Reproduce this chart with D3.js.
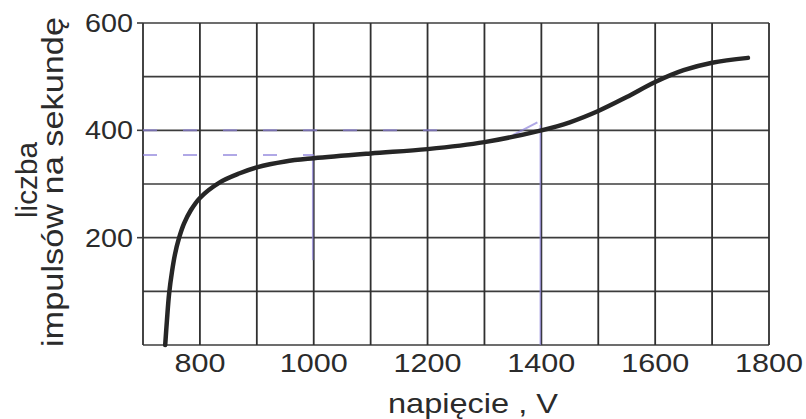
<!DOCTYPE html>
<html>
<head>
<meta charset="utf-8">
<script src="https://cdn.jsdelivr.net/npm/d3@7"></script>
<style>
  body { margin: 0; background: #fff; }
  text { font-family: "Liberation Sans", Arial, sans-serif; fill: #2b2b2b; }
</style>
</head>
<body>
<div id="chart"></div>
<script>
// plateau curve of the counter (napięcie -> liczba impulsów)
var voltage = [739, 742, 746, 751, 756, 763, 772, 784, 800, 835, 870, 900, 950, 1000, 1100, 1200, 1300, 1400, 1450, 1500, 1550, 1600, 1650, 1700, 1763];
var counts  = [0, 45, 97, 137, 168, 198, 226, 251, 274, 303, 320, 331, 342, 348, 357, 365, 378, 400, 415, 436, 462, 490, 512, 526, 535];

var xTicks = [800, 1000, 1200, 1400, 1600, 1800];
var yTicks = [200, 400, 600];
var xGrid = d3.range(700, 1801, 100);
var yGrid = d3.range(0, 601, 100);

// pencil marks drawn on the print
var penLevels = [400, 354];
var penLevelEnds = [1230, 1000];
var penMarkV = [1000, 1400];
var penMarkTop = [354, 410];
var penMarkBottom = [158, 0];

var W = 806, H = 419;
var margin = {left: 143, right: 37, top: 23, bottom: 74};

var svg = d3.select("#chart").append("svg")
  .attr("width", W).attr("height", H);

var x = d3.scaleLinear().domain([700, 1800]).range([margin.left, W - margin.right]);
var y = d3.scaleLinear().domain([0, 600]).range([H - margin.bottom, margin.top]);

// grid
svg.append("g").selectAll("line").data(yGrid).enter().append("line")
  .attr("x1", x(700)).attr("x2", x(1800))
  .attr("y1", d => y(d)).attr("y2", d => y(d))
  .attr("stroke", "#3c3c3c").attr("stroke-width", 1.6);
svg.append("g").selectAll("line").data(xGrid).enter().append("line")
  .attr("x1", d => x(d)).attr("x2", d => x(d))
  .attr("y1", y(0)).attr("y2", y(600))
  .attr("stroke", "#303030").attr("stroke-width", 1.8);

// small ticks on y
svg.append("g").selectAll("line").data(yTicks).enter().append("line")
  .attr("x1", x(700) - 6).attr("x2", x(700))
  .attr("y1", d => y(d)).attr("y2", d => y(d))
  .attr("stroke", "#3c3c3c").attr("stroke-width", 1.6);

// pen marks (violet, dashed)
var pen = svg.append("g").attr("stroke", "#8f84dc").attr("stroke-width", 2)
  .attr("fill", "none").attr("opacity", 0.7);
penLevels.forEach(function(c, i) {
  pen.append("line")
    .attr("x1", x(700)).attr("x2", x(penLevelEnds[i]))
    .attr("y1", y(c)).attr("y2", y(c))
    .attr("stroke-dasharray", "14,26");
});
penMarkV.forEach(function(v, i) {
  pen.append("line")
    .attr("x1", x(v) - 1).attr("x2", x(v) - 1)
    .attr("y1", y(penMarkTop[i])).attr("y2", y(penMarkBottom[i]))
    .attr("stroke-width", 1.6);
});
pen.append("line")
  .attr("x1", x(1350)).attr("y1", y(391))
  .attr("x2", x(1393)).attr("y2", y(415));

// curve
var line = d3.line()
  .x(function(d, i) { return x(voltage[i]); })
  .y(function(d) { return y(d); })
  .curve(d3.curveCatmullRom.alpha(0.5));
svg.append("path").datum(counts)
  .attr("d", line)
  .attr("fill", "none")
  .attr("stroke", "#262626")
  .attr("stroke-width", 4.5)
  .attr("stroke-linecap", "round");

// tick labels
svg.append("g").selectAll("text").data(xTicks).enter().append("text")
  .attr("x", d => x(d)).attr("y", y(0) + 27)
  .attr("text-anchor", "middle")
  .attr("font-size", 25)
  .attr("textLength", d => String(d).length * 17)
  .attr("lengthAdjust", "spacingAndGlyphs")
  .text(d => d);
svg.append("g").selectAll("text").data(yTicks).enter().append("text")
  .attr("x", x(700) - 34).attr("y", d => y(d) + 9)
  .attr("text-anchor", "middle")
  .attr("font-size", 25)
  .attr("textLength", 48)
  .attr("lengthAdjust", "spacingAndGlyphs")
  .text(d => d);

// axis titles
svg.append("text")
  .attr("x", 473).attr("y", 413)
  .attr("text-anchor", "middle")
  .attr("font-size", 28)
  .attr("textLength", 170)
  .attr("lengthAdjust", "spacingAndGlyphs")
  .text("napięcie , V");

svg.append("text")
  .attr("transform", "translate(37,180) rotate(-90)")
  .attr("text-anchor", "middle")
  .attr("font-size", 30)
  .attr("textLength", 76)
  .attr("lengthAdjust", "spacingAndGlyphs")
  .text("liczba");
svg.append("text")
  .attr("transform", "translate(63,182) rotate(-90)")
  .attr("text-anchor", "middle")
  .attr("font-size", 29)
  .attr("textLength", 330)
  .attr("lengthAdjust", "spacingAndGlyphs")
  .text("impulsów na sekundę");
</script>
</body>
</html>
